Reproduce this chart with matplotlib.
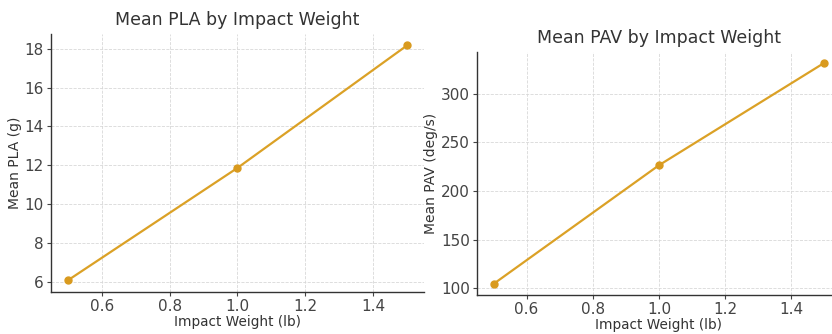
import matplotlib
matplotlib.use("Agg")
import matplotlib.pyplot as plt

# data
weights = [0.5, 1.0, 1.5]
mean_pla = [6.07, 11.86, 18.17]
mean_pav = [104.4, 226.5, 331.9]

line_color = "#DBA126"
text_color = "#333333"

plt.rcParams["font.family"] = "DejaVu Sans"
plt.rcParams["text.color"] = text_color
plt.rcParams["axes.labelcolor"] = text_color
plt.rcParams["xtick.color"] = "#444444"
plt.rcParams["ytick.color"] = "#444444"

fig = plt.figure(figsize=(8.32, 3.34), dpi=100)

# two panels, placed by hand to match the pasted layout
ax1 = fig.add_axes([0.0613, 0.1257, 0.4483, 0.7734])
ax2 = fig.add_axes([0.5733, 0.1168, 0.4375, 0.7284])

panels = [
    (ax1, mean_pla, "Mean PLA by Impact Weight", "Mean PLA (g)", [6, 8, 10, 12, 14, 16, 18]),
    (ax2, mean_pav, "Mean PAV by Impact Weight", "Mean PAV (deg/s)", [100, 150, 200, 250, 300]),
]

for ax, vals, title, ylabel, yticks in panels:
    ax.plot(weights, vals, color=line_color, linewidth=1.6,
            marker="o", markersize=5, markerfacecolor="#D99A1E", markeredgecolor="#D99A1E")
    ax.set_title(title, fontsize=12.5, color=text_color, pad=6)
    ax.set_xlabel("Impact Weight (lb)", fontsize=9.8, labelpad=1)
    ax.set_ylabel(ylabel, fontsize=10, labelpad=2)
    ax.set_xticks([0.6, 0.8, 1.0, 1.2, 1.4])
    ax.set_yticks(yticks)
    ax.tick_params(labelsize=11, length=3, width=0.8, pad=2)
    ax.grid(True, linestyle="--", linewidth=0.6, color="#d8d8d8")
    ax.set_axisbelow(True)
    for s in ["top", "right"]:
        ax.spines[s].set_visible(False)
    for s in ["left", "bottom"]:
        ax.spines[s].set_color("#333333")
        ax.spines[s].set_linewidth(1.0)

ax1.set_xlim(0.45, 1.55)
ax2.set_xlim(0.45, 1.55)

fig.savefig("out.png", dpi=100)
